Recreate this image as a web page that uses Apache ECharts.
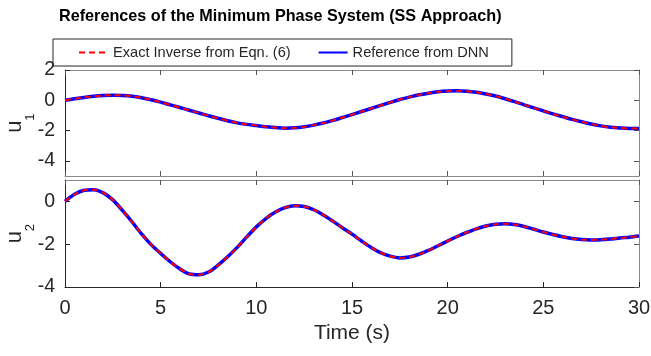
<!DOCTYPE html>
<html>
<head>
<meta charset="utf-8">
<script src="https://cdn.jsdelivr.net/npm/echarts@6/dist/echarts.min.js"></script>
<style>html,body{margin:0;padding:0;background:#fff}#c{width:651px;height:356px}</style>
</head>
<body>
<div id="c"></div>
<script>
// ---- data ----
const time = [0,0.5,1,1.5,2,2.5,3,3.5,4,4.5,5,5.5,6,6.5,7,7.5,8,8.5,9,9.5,10,10.5,11,11.5,12,12.5,13,13.5,14,14.5,15,15.5,16,16.5,17,17.5,18,18.5,19,19.5,20,20.5,21,21.5,22,22.5,23,23.5,24,24.5,25,25.5,26,26.5,27,27.5,28,28.5,29,29.5,30];
const u1 = [0,0.1,0.19,0.26,0.31,0.34,0.32,0.27,0.17,0.04,-0.12,-0.3,-0.48,-0.66,-0.84,-1.02,-1.19,-1.35,-1.49,-1.59,-1.67,-1.75,-1.8,-1.84,-1.82,-1.75,-1.64,-1.5,-1.33,-1.14,-0.95,-0.74,-0.54,-0.34,-0.14,0.05,0.21,0.36,0.47,0.56,0.61,0.63,0.6,0.53,0.42,0.28,0.1,-0.09,-0.3,-0.5,-0.7,-0.9,-1.08,-1.26,-1.42,-1.57,-1.69,-1.78,-1.83,-1.86,-1.86];
const u2 = [0,0.33,0.52,0.55,0.4,0.07,-0.42,-0.95,-1.52,-2.02,-2.43,-2.82,-3.15,-3.39,-3.43,-3.3,-2.98,-2.59,-2.15,-1.66,-1.19,-0.8,-0.5,-0.29,-0.2,-0.24,-0.39,-0.63,-0.92,-1.23,-1.53,-1.85,-2.15,-2.4,-2.56,-2.64,-2.6,-2.47,-2.29,-2.07,-1.85,-1.64,-1.45,-1.28,-1.15,-1.07,-1.04,-1.08,-1.17,-1.3,-1.43,-1.55,-1.65,-1.73,-1.78,-1.8,-1.79,-1.76,-1.71,-1.67,-1.62];
const seriesNames = ['Exact Inverse from Eqn. (6)', 'Reference from DNN'];
const y1Ticks = [-4,-2,0,2];
const y2Ticks = [-4,-2,0];
const titleText = 'References of the Minimum Phase System (SS Approach)';
const xName = 'Time (s)';

// ---- chart ----
const FONT = "'Liberation Sans', Arial, Helvetica, sans-serif";
const DARK = '#262626', GRAY = '#8a8a8a', TICK = '#555';
const pairs = arr => time.map((t, i) => [t, arr[i]]);

function xAx(grid, pos, dark, labels) {
  const a = {
    gridIndex: grid, type: 'value', position: pos, min: 0, max: 30, interval: 5,
    axisLine: {show: true, onZero: false, lineStyle: {color: dark ? DARK : GRAY, width: 1}},
    axisTick: {show: true, inside: true, length: 5, lineStyle: {color: dark ? DARK : TICK}},
    axisLabel: {show: labels, margin: 11, fontSize: 20, color: DARK, fontFamily: FONT},
    splitLine: {show: false}
  };
  if (labels) {
    a.name = xName; a.nameLocation = 'middle'; a.nameGap = 36; a.nameMoveOverlap = false;
    a.nameTextStyle = {fontSize: 21, color: DARK, fontFamily: FONT};
  }
  return a;
}
function yAx(grid, pos, min, max, ticks, dark, name) {
  const a = {
    gridIndex: grid, type: 'value', position: pos, min: min, max: max,
    axisLine: {show: true, onZero: false, lineStyle: {color: dark ? DARK : GRAY, width: 1}},
    axisTick: {show: true, inside: true, length: 5, customValues: ticks, lineStyle: {color: dark ? DARK : TICK}},
    axisLabel: {show: !!name, margin: 10, fontSize: 19.5, color: DARK, fontFamily: FONT, customValues: ticks},
    splitLine: {show: false}
  };
  if (name) {
    a.name = '{a|u}{b|' + name + '}{c| }';
    a.nameLocation = 'middle'; a.nameRotate = 90; a.nameGap = 28.5; a.nameMoveOverlap = false;
    a.nameTextStyle = {rich: {
      a: {fontSize: 22, lineHeight: 22, verticalAlign: 'top', color: DARK, fontFamily: FONT},
      b: {fontSize: 13, lineHeight: 13, verticalAlign: 'bottom', color: DARK, fontFamily: FONT},
      c: {fontSize: 1, lineHeight: 33, verticalAlign: 'middle'}
    }};
  }
  return a;
}
function lines(grid, arr) {
  const xi = grid * 2, yi = grid * 2;
  return [
    {name: seriesNames[1], type: 'line', xAxisIndex: xi, yAxisIndex: yi, data: pairs(arr), smooth: 0.3,
     showSymbol: false, symbol: 'none', lineStyle: {color: '#0000ff', width: 3.5}, itemStyle: {color: '#0000ff'}, z: 2},
    {name: seriesNames[0], type: 'line', xAxisIndex: xi, yAxisIndex: yi, data: pairs(arr), smooth: 0.3,
     showSymbol: false, symbol: 'none', lineStyle: {color: '#ff0000', width: 2, type: [6, 4]}, itemStyle: {color: '#ff0000'}, z: 3}
  ];
}

const chart = echarts.init(document.getElementById('c'), null, {renderer: 'canvas'});
chart.setOption({
  animation: false,
  backgroundColor: '#fff',
  title: {text: titleText, left: 59, top: 9, padding: 0,
          textStyle: {fontSize: 16.2, fontWeight: 'bold', color: '#000', fontFamily: FONT}},
  legend: {
    data: seriesNames, left: 53, top: 39, padding: [6, 23, 6, 25],
    borderColor: DARK, borderWidth: 1, borderRadius: 0,
    itemWidth: 29, itemHeight: 16, itemGap: 27,
    itemStyle: {opacity: 0},
    textStyle: {fontSize: 14.6, color: DARK, fontFamily: FONT}
  },
  grid: [
    {left: 65, top: 70, width: 574, height: 106, containLabel: false, outerBoundsMode: 'none'},
    {left: 65, top: 180, width: 574, height: 107, containLabel: false, outerBoundsMode: 'none'}
  ],
  xAxis: [xAx(0, 'bottom', false, false), xAx(0, 'top', false, false),
          xAx(1, 'bottom', true, true), xAx(1, 'top', false, false)],
  yAxis: [yAx(0, 'left', -5, 2, y1Ticks, true, '1'), yAx(0, 'right', -5, 2, y1Ticks, false, null),
          yAx(1, 'left', -4, 1, y2Ticks, true, '2'), yAx(1, 'right', -4, 1, y2Ticks, false, null)],
  series: [...lines(0, u1), ...lines(1, u2)]
});
</script>
</body>
</html>
